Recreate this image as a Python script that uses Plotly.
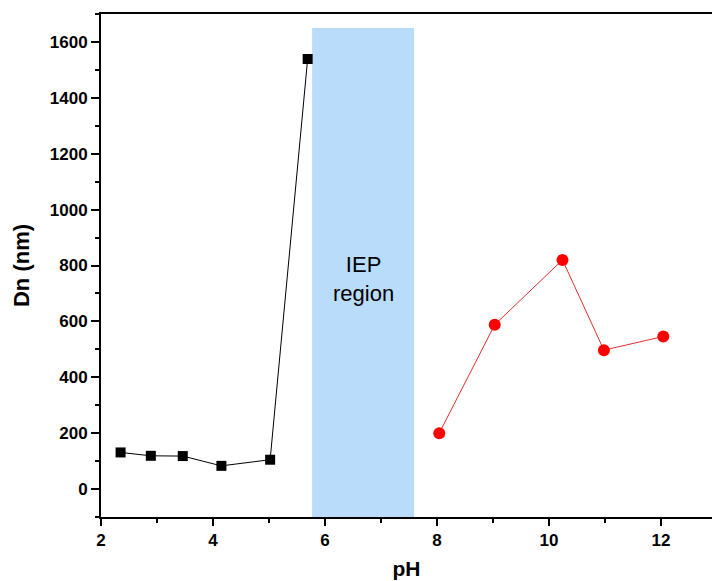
import plotly.graph_objects as go

ph_low = [2.35, 2.89, 3.46, 4.15, 5.02, 5.69]
dn_low = [131, 119, 118, 83, 105, 1539]
ph_high = [8.04, 9.03, 10.24, 10.98, 12.04]
dn_high = [200, 588, 820, 497, 546]
iep_x = [5.77, 7.59]
iep_top = 1650
x_ticks = [2, 4, 6, 8, 10, 12]
y_ticks = [0, 200, 400, 600, 800, 1000, 1200, 1400, 1600]

FONT = "Liberation Sans, Arial"

fig = go.Figure()
fig.add_shape(type="rect", x0=iep_x[0], x1=iep_x[1], y0=-100, y1=iep_top,
              fillcolor="#b9dcfb", line_width=0, layer="below")
fig.add_trace(go.Scatter(x=ph_low, y=dn_low, mode="lines+markers",
                         line=dict(color="black", width=1),
                         marker=dict(symbol="square", size=10, color="black"),
                         showlegend=False))
fig.add_trace(go.Scatter(x=ph_high, y=dn_high, mode="lines+markers",
                         line=dict(color="#e03030", width=1),
                         marker=dict(symbol="circle", size=12, color="#ff0000"),
                         showlegend=False))
fig.add_annotation(x=sum(iep_x)/2, y=752, text="IEP<br>region", showarrow=False,
                   font=dict(family=FONT, size=22, color="black"))

fig.update_layout(
    width=712, height=581,
    margin=dict(l=101, r=0, t=14, b=64),
    plot_bgcolor="white", paper_bgcolor="white",
    font=dict(family=FONT, color="black"),
)
fig.update_xaxes(range=[2, 12.91], tickvals=x_ticks,
                 ticktext=["<b>%d</b>" % v for v in x_ticks],
                 showline=True, linecolor="black", linewidth=2, mirror=True,
                 ticks="outside", ticklen=7, tickwidth=1.5, tickcolor="black",
                 minor=dict(ticks="outside", dtick=1, ticklen=4, tickcolor="black", tickwidth=1.5),
                 showgrid=False, zeroline=False,
                 tickfont=dict(size=17, family=FONT),
                 title=dict(text="<b>pH</b>", font=dict(size=21), standoff=12))
fig.update_yaxes(range=[-100, 1700], tickvals=y_ticks,
                 ticktext=["<b>%d</b>" % v for v in y_ticks],
                 showline=True, linecolor="black", linewidth=2,
                 ticks="outside", ticklen=8, tickwidth=1.5, tickcolor="black",
                 minor=dict(ticks="outside", dtick=100, ticklen=4, tickcolor="black", tickwidth=1.5),
                 showgrid=False, zeroline=False,
                 tickfont=dict(size=17, family=FONT),
                 title=dict(text="<b>Dn (nm)</b>", font=dict(size=22), standoff=14))

fig.write_html("out.html")
